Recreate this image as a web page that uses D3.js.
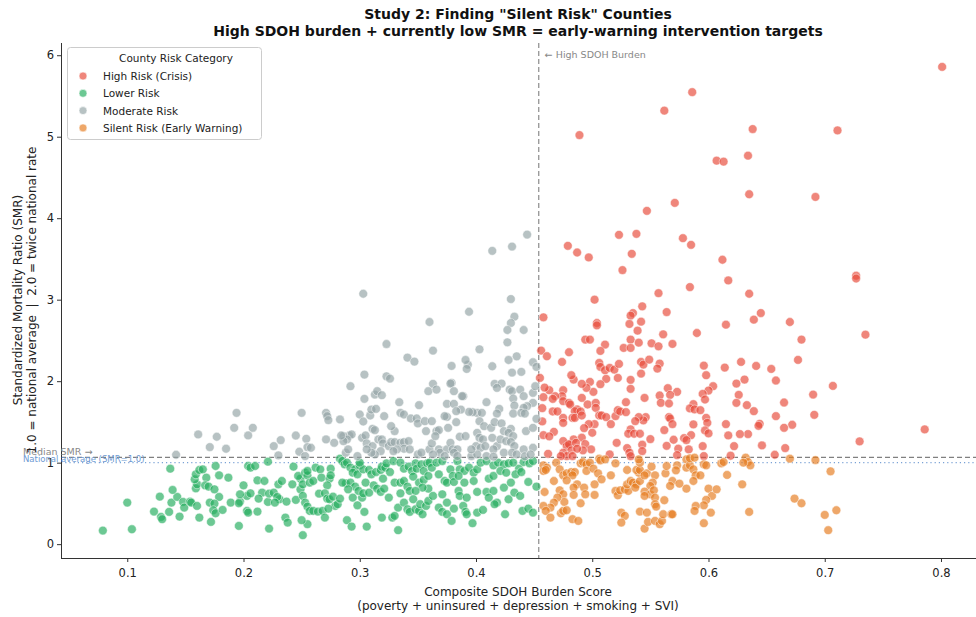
<!DOCTYPE html>
<html><head><meta charset="utf-8">
<script src="https://cdn.jsdelivr.net/npm/d3@7"></script>
<style>body{margin:0;background:#fff;font-family:"DejaVu Sans",sans-serif;} text{white-space:pre;}</style>
</head><body><svg id="c" width="976" height="617"></svg>
<script>
const xTicks=[0.1,0.2,0.3,0.4,0.5,0.6,0.7,0.8];
const yTicks=[0,1,2,3,4,5,6];
const categories=["High Risk (Crisis)","Lower Risk","Moderate Risk","Silent Risk (Early Warning)"];
const colors=["#e74c3c","#27ae60","#95a5a6","#e67e22"];
const sdohThreshold=0.454, medianSMR=1.065, nationalSMR=1.0;

const highRisk=[[0.801,5.857],[0.586,5.547],[0.562,5.32],[0.489,5.02],[0.638,5.094],[0.711,5.077],[0.607,4.706],[0.613,4.694],[0.634,4.767],[0.635,4.294],[0.692,4.261],[0.571,4.188],[0.547,4.09],[0.523,3.796],[0.538,3.808],[0.578,3.755],[0.585,3.673],[0.479,3.661],[0.487,3.579],[0.497,3.518],[0.534,3.563],[0.612,3.49],[0.526,3.363],[0.727,3.294],[0.727,3.26],[0.617,3.236],[0.584,3.155],[0.557,3.08],[0.635,3.073],[0.502,3.0],
[0.458,2.783],[0.543,2.918],[0.564,2.848],[0.535,2.836],[0.533,2.804],[0.542,2.73],[0.504,2.714],[0.504,2.685],[0.532,2.702],[0.539,2.62],[0.615,2.693],[0.639,2.755],[0.645,2.836],[0.67,2.726],[0.735,2.571],[0.590,2.591],[0.561,2.575],[0.680,2.51],[0.494,2.51],[0.498,2.51],[0.533,2.51],[0.569,2.457],[0.551,2.465],[0.557,2.428],[0.540,2.473],[0.511,2.449],[0.527,2.408],[0.533,2.408],[0.507,2.371],[0.456,2.375],[0.480,2.355],[0.461,2.306],[0.474,2.236],[0.506,2.224],[0.507,2.175],[0.511,2.134],[0.515,2.163],[0.519,2.142],[0.523,2.212],[0.542,2.236],[0.544,2.204],[0.549,2.265],[0.558,2.216],[0.556,2.155],[0.542,2.093],[0.596,2.191],[0.598,2.073],[0.614,2.167],[0.628,2.236],[0.641,2.187],[0.654,2.15],[0.677,2.261],[0.658,2.008],[0.631,2.02],[0.624,1.971],[0.707,1.942],[0.690,1.836],[0.691,1.587],[0.665,1.738],[0.786,1.408],[0.730,1.261],[0.672,1.465],[0.658,1.571],[0.665,1.428],[0.666,1.179],[0.657,1.097],[0.646,1.212],[0.644,1.477],[0.643,1.452],[0.639,1.632],[0.633,1.706],[0.626,1.832],[0.624,1.734],[0.634,1.351],[0.627,1.351],[0.617,1.334],[0.615,1.473],[0.622,1.203],[0.619,1.085],[0.604,1.938],[0.600,1.885],[0.595,1.844],[0.597,1.775],[0.598,1.55],[0.599,1.489],[0.597,1.395],[0.600,1.359],[0.587,1.718],[0.584,1.665],[0.588,1.653],[0.593,1.644],[0.587,1.469],[0.585,1.338],[0.579,1.301],[0.581,1.277],[0.583,1.163],[0.595,1.203],[0.596,1.081],[0.573,1.869],[0.565,1.914],[0.567,1.832],[0.558,1.824],[0.559,1.734],[0.566,1.726],[0.566,1.559],[0.567,1.542],[0.569,1.473],[0.562,1.4],[0.570,1.281],[0.564,1.207],[0.574,1.171],[0.573,1.093],[0.550,1.289],[0.545,1.795],[0.546,1.559],[0.544,1.518],[0.540,1.559],[0.537,1.51],[0.533,1.408],[0.531,1.355],[0.536,1.355],[0.541,1.355],[0.543,1.22],[0.543,1.142],[0.530,1.179],[0.532,1.122],[0.533,1.081],[0.529,1.742],[0.533,2.016],[0.533,1.906],[0.522,2.04],[0.512,2.028],[0.507,1.963],[0.501,1.869],[0.498,1.991],[0.495,1.918],[0.491,1.967],[0.491,1.795],[0.484,2.02],[0.482,2.073],[0.475,1.889],[0.474,1.816],[0.468,1.816],[0.463,1.889],[0.459,1.922],[0.458,1.804],[0.466,1.783],[0.457,1.669],[0.457,1.506],[0.458,1.338],[0.455,2.04],[0.462,1.109],[0.467,1.379],[0.463,1.322],[0.475,1.755],[0.480,1.734],[0.481,1.714],[0.466,1.628],[0.470,1.628],[0.475,1.55],[0.475,1.489],[0.487,1.653],[0.485,1.632],[0.490,1.628],[0.483,1.55],[0.485,1.55],[0.491,1.579],[0.496,1.714],[0.503,1.734],[0.503,1.673],[0.506,1.579],[0.508,1.579],[0.512,1.559],[0.520,1.571],[0.522,1.644],[0.524,1.628],[0.516,1.473],[0.502,1.473],[0.497,1.473],[0.493,1.424],[0.500,1.367],[0.491,1.306],[0.484,1.285],[0.479,1.228],[0.475,1.265],[0.478,1.204],[0.480,1.224],[0.486,1.244],[0.494,1.228],[0.499,1.163],[0.492,1.151],[0.482,1.151],[0.487,1.171],[0.475,1.122],[0.478,1.081],[0.473,1.081],[0.483,1.081],[0.515,1.101],[0.521,1.244],[0.529,1.62]];

const silentRisk=[[0.458,0.967],[0.461,0.939],[0.458,0.898],[0.460,0.91],[0.469,1.0],[0.472,0.918],[0.475,0.845],[0.478,0.869],[0.482,0.885],[0.485,0.885],[0.483,0.845],[0.467,0.775],[0.478,0.783],[0.487,0.734],[0.484,0.694],[0.490,0.992],[0.492,1.008],[0.495,0.979],[0.498,1.0],[0.495,0.898],[0.501,0.926],[0.505,0.869],[0.508,0.796],[0.502,0.734],[0.493,0.694],[0.472,0.661],[0.475,0.612],[0.484,0.604],[0.476,0.518],[0.470,0.571],[0.467,0.51],[0.464,0.449],[0.459,0.64],[0.458,0.469],[0.460,0.408],[0.464,0.326],[0.473,0.379],[0.475,0.408],[0.478,0.416],[0.483,0.306],[0.488,0.285],[0.490,0.502],[0.494,0.612],[0.502,0.604],[0.506,1.049],[0.507,1.028],[0.511,1.04],[0.520,0.992],[0.516,0.845],[0.520,0.653],[0.522,0.6],[0.524,0.661],[0.528,0.673],[0.531,0.653],[0.530,0.734],[0.533,0.775],[0.535,0.755],[0.538,0.734],[0.537,0.694],[0.541,0.775],[0.540,0.877],[0.538,0.91],[0.541,0.91],[0.541,1.0],[0.540,1.04],[0.547,0.869],[0.545,0.845],[0.554,0.845],[0.552,0.755],[0.550,0.714],[0.530,0.91],[0.551,0.951],[0.525,0.387],[0.528,0.347],[0.525,0.265],[0.541,0.4],[0.547,0.387],[0.545,0.645],[0.550,0.612],[0.553,0.661],[0.554,0.571],[0.545,0.592],[0.554,0.49],[0.555,0.461],[0.545,0.191],[0.548,0.273],[0.554,0.285],[0.558,0.245],[0.560,0.285],[0.561,0.367],[0.562,0.539],[0.568,0.367],[0.563,0.869],[0.564,0.959],[0.573,0.967],[0.572,0.906],[0.569,0.775],[0.567,0.714],[0.575,0.742],[0.581,0.681],[0.581,0.939],[0.581,1.04],[0.584,0.967],[0.584,1.053],[0.588,1.061],[0.587,0.918],[0.589,0.845],[0.587,0.775],[0.593,0.845],[0.596,0.979],[0.598,0.967],[0.600,0.681],[0.603,0.592],[0.607,0.673],[0.598,0.543],[0.596,0.477],[0.589,0.469],[0.588,0.408],[0.596,0.257],[0.602,0.387],[0.611,0.992],[0.613,1.008],[0.616,0.849],[0.629,0.734],[0.635,0.396],[0.632,1.061],[0.634,1.008],[0.636,0.967],[0.630,1.0],[0.670,1.049],[0.692,1.032],[0.674,0.559],[0.680,0.502],[0.705,0.894],[0.710,0.416],[0.700,0.359],[0.703,0.171],[0.569,0.367]];

const moderateRisk=[[0.444,3.799],[0.431,3.652],[0.414,3.599],[0.303,3.073],[0.430,3.008],[0.394,2.852],[0.433,2.791],[0.430,2.714],[0.427,2.628],[0.441,2.628],[0.360,2.726],[0.323,2.456],[0.427,2.477],[0.363,2.375],[0.403,2.391],[0.435,2.305],[0.428,2.26],[0.341,2.289],[0.347,2.24],[0.379,2.187],[0.393,2.203],[0.392,2.15],[0.391,2.26],[0.414,2.183],[0.449,2.232],[0.452,2.175],[0.431,2.105],[0.439,2.114],[0.304,2.081],[0.323,2.06],[0.326,2.032],[0.292,1.938],[0.363,1.967],[0.359,1.877],[0.366,1.897],[0.379,1.979],[0.378,1.971],[0.381,1.877],[0.389,1.816],[0.416,1.967],[0.422,1.971],[0.418,1.918],[0.429,1.897],[0.431,1.877],[0.438,1.897],[0.441,1.816],[0.432,1.787],[0.433,1.701],[0.432,1.603],[0.449,1.857],[0.451,1.938],[0.449,1.734],[0.444,1.693],[0.441,1.673],[0.439,1.611],[0.442,1.603],[0.452,1.538],[0.304,1.783],[0.313,1.836],[0.315,1.877],[0.319,1.828],[0.334,1.742],[0.351,1.706],[0.375,1.722],[0.381,1.722],[0.388,1.816],[0.409,1.742],[0.420,1.66],[0.418,1.603],[0.401,1.611],[0.405,1.611],[0.397,1.619],[0.394,1.623],[0.387,1.652],[0.383,1.632],[0.375,1.562],[0.373,1.571],[0.383,1.497],[0.403,1.509],[0.407,1.448],[0.413,1.428],[0.416,1.497],[0.422,1.481],[0.424,1.387],[0.430,1.415],[0.428,1.366],[0.432,1.326],[0.443,1.387],[0.449,1.428],[0.335,1.611],[0.338,1.591],[0.344,1.542],[0.349,1.542],[0.350,1.481],[0.356,1.509],[0.362,1.509],[0.357,1.387],[0.366,1.387],[0.368,1.399],[0.376,1.428],[0.330,1.387],[0.327,1.448],[0.311,1.415],[0.313,1.399],[0.309,1.579],[0.310,1.652],[0.314,1.66],[0.321,1.571],[0.300,1.591],[0.303,1.505],[0.283,1.53],[0.291,1.333],[0.293,1.346],[0.286,1.326],[0.302,1.305],[0.305,1.333],[0.306,1.236],[0.311,1.203],[0.316,1.285],[0.319,1.285],[0.320,1.236],[0.325,1.203],[0.327,1.252],[0.330,1.252],[0.335,1.244],[0.338,1.252],[0.342,1.264],[0.338,1.171],[0.343,1.163],[0.332,1.163],[0.360,1.163],[0.362,1.236],[0.365,1.326],[0.368,1.163],[0.375,1.163],[0.378,1.244],[0.380,1.163],[0.384,1.163],[0.386,1.318],[0.391,1.326],[0.401,1.366],[0.403,1.305],[0.406,1.285],[0.400,1.203],[0.404,1.183],[0.408,1.203],[0.414,1.305],[0.418,1.203],[0.415,1.163],[0.421,1.285],[0.426,1.264],[0.430,1.252],[0.433,1.203],[0.424,1.122],[0.431,1.122],[0.435,1.101],[0.441,1.163],[0.449,1.183],[0.442,1.078],[0.447,1.101],[0.396,1.081],[0.401,1.101],[0.409,1.081],[0.415,1.073],[0.396,1.163],[0.350,1.101],[0.353,1.122],[0.369,1.122],[0.373,1.081],[0.381,1.122],[0.384,1.081],[0.363,1.101],[0.329,1.142],[0.318,1.142],[0.313,1.101],[0.310,1.122],[0.306,1.163],[0.289,1.285],[0.288,1.122],[0.290,1.163],[0.298,1.081],[0.271,1.611],[0.272,1.571],[0.273,1.522],[0.278,1.244],[0.286,1.264],[0.284,1.333],[0.271,1.285],[0.250,1.611],[0.245,1.333],[0.254,1.293],[0.255,1.191],[0.258,1.183],[0.248,1.134],[0.253,1.081],[0.232,1.277],[0.226,1.203],[0.230,1.089],[0.194,1.611],[0.192,1.428],[0.208,1.428],[0.204,1.334],[0.161,1.346],[0.177,1.318],[0.171,1.191],[0.185,1.171],[0.142,1.097]];

const lowerRisk=[[0.079,0.167],[0.104,0.183],[0.100,0.51],[0.123,0.4],[0.129,0.334],[0.130,0.306],[0.136,0.396],[0.145,0.338],[0.128,0.583],[0.138,0.51],[0.143,0.579],[0.148,0.518],[0.149,0.449],[0.139,0.665],[0.137,0.926],[0.154,0.522],[0.155,0.51],[0.160,0.469],[0.162,0.326],[0.172,0.273],[0.159,0.685],[0.160,0.734],[0.158,0.796],[0.159,0.857],[0.162,0.91],[0.165,0.918],[0.168,0.816],[0.167,0.722],[0.170,0.706],[0.176,0.959],[0.179,0.845],[0.187,0.816],[0.175,0.673],[0.179,0.579],[0.171,0.51],[0.175,0.498],[0.174,0.416],[0.176,0.379],[0.182,0.42],[0.189,0.51],[0.197,0.522],[0.196,0.502],[0.200,0.722],[0.203,0.592],[0.197,0.612],[0.204,0.959],[0.206,0.939],[0.210,0.959],[0.221,1.012],[0.212,0.783],[0.218,0.775],[0.216,0.632],[0.213,0.559],[0.206,0.624],[0.203,0.408],[0.204,0.387],[0.196,0.224],[0.212,0.4],[0.221,0.518],[0.222,0.62],[0.226,0.632],[0.231,0.551],[0.229,0.579],[0.227,0.51],[0.222,0.191],[0.230,0.734],[0.233,0.775],[0.242,0.734],[0.243,0.951],[0.237,0.522],[0.245,0.543],[0.236,0.326],[0.238,0.265],[0.249,0.804],[0.249,0.673],[0.251,0.734],[0.247,0.837],[0.253,0.877],[0.255,0.845],[0.257,0.755],[0.260,0.775],[0.262,0.939],[0.255,0.898],[0.251,0.592],[0.253,0.51],[0.255,0.461],[0.257,0.408],[0.260,0.408],[0.264,0.4],[0.268,0.408],[0.270,0.326],[0.255,0.245],[0.251,0.11],[0.250,0.294],[0.266,0.918],[0.267,0.816],[0.274,0.804],[0.275,0.926],[0.272,0.722],[0.275,0.845],[0.265,0.62],[0.270,0.624],[0.272,0.559],[0.274,0.551],[0.277,0.583],[0.279,0.469],[0.281,0.49],[0.273,0.436],[0.283,1.049],[0.285,1.02],[0.287,0.979],[0.283,0.559],[0.289,0.294],[0.293,0.216],[0.288,0.747],[0.285,0.755],[0.292,0.755],[0.296,0.706],[0.290,0.673],[0.289,1.0],[0.292,0.939],[0.296,0.918],[0.294,0.877],[0.298,0.857],[0.300,0.967],[0.303,0.918],[0.300,1.0],[0.294,0.571],[0.298,0.477],[0.302,0.571],[0.304,0.396],[0.306,0.216],[0.299,0.653],[0.303,0.624],[0.305,0.755],[0.308,0.632],[0.312,0.722],[0.308,0.91],[0.310,0.857],[0.314,0.885],[0.318,0.91],[0.319,0.951],[0.322,0.939],[0.326,0.885],[0.320,0.804],[0.323,0.992],[0.329,1.02],[0.335,1.0],[0.315,0.681],[0.318,0.641],[0.321,0.681],[0.325,0.571],[0.328,0.326],[0.330,0.347],[0.319,0.326],[0.333,0.171],[0.333,0.449],[0.330,0.755],[0.335,0.755],[0.338,0.775],[0.335,0.624],[0.341,0.706],[0.343,0.653],[0.338,0.926],[0.342,0.951],[0.345,0.898],[0.348,0.992],[0.349,0.926],[0.353,0.979],[0.355,0.898],[0.358,0.992],[0.360,1.0],[0.346,0.828],[0.351,0.755],[0.355,0.788],[0.359,0.837],[0.359,0.681],[0.354,0.694],[0.348,0.653],[0.346,0.551],[0.338,0.51],[0.341,0.428],[0.343,0.396],[0.348,0.428],[0.351,0.408],[0.354,0.367],[0.352,0.49],[0.357,0.469],[0.359,0.53],[0.363,0.592],[0.368,0.449],[0.371,0.396],[0.375,0.367],[0.379,0.285],[0.375,0.51],[0.371,0.612],[0.368,0.857],[0.362,0.939],[0.366,1.0],[0.371,1.02],[0.378,0.918],[0.380,0.837],[0.373,0.775],[0.375,0.755],[0.381,0.763],[0.384,1.02],[0.386,0.918],[0.390,0.898],[0.394,0.939],[0.398,0.877],[0.401,0.918],[0.404,1.0],[0.409,1.02],[0.415,0.967],[0.419,1.0],[0.424,0.979],[0.428,0.992],[0.432,1.0],[0.437,0.926],[0.441,1.008],[0.446,0.992],[0.449,1.02],[0.385,0.837],[0.390,0.755],[0.398,0.775],[0.411,0.804],[0.415,0.837],[0.421,0.898],[0.426,0.877],[0.434,0.857],[0.439,0.885],[0.445,0.763],[0.452,0.706],[0.385,0.653],[0.386,0.592],[0.392,0.571],[0.401,0.641],[0.409,0.641],[0.415,0.653],[0.411,0.571],[0.418,0.51],[0.424,0.694],[0.428,0.551],[0.433,0.632],[0.438,0.592],[0.430,0.755],[0.381,0.436],[0.389,0.469],[0.391,0.396],[0.392,0.367],[0.397,0.257],[0.401,0.387],[0.406,0.42],[0.416,0.49],[0.425,0.367],[0.440,0.408],[0.445,0.436],[0.449,0.387]];

const seriesData=[highRisk,lowerRisk,moderateRisk,silentRisk];

const svg=d3.select("#c");
const x=d3.scaleLinear().domain([0.043,0.837]).range([61,984]);
const y=d3.scaleLinear().domain([-0.17,6.15]).range([558,43]);
const font='"DejaVu Sans", sans-serif';

svg.append("line").attr("x1",x(sdohThreshold)).attr("x2",x(sdohThreshold)).attr("y1",y(6.15)).attr("y2",y(-0.17))
  .attr("stroke","#808080").attr("stroke-width",1.1).attr("stroke-dasharray","5,3");
svg.append("line").attr("x1",61).attr("x2",976).attr("y1",y(medianSMR)).attr("y2",y(medianSMR))
  .attr("stroke","#808080").attr("stroke-width",1.1).attr("stroke-dasharray","5,3");
svg.append("line").attr("x1",61).attr("x2",976).attr("y1",y(nationalSMR)).attr("y2",y(nationalSMR))
  .attr("stroke","#7aa2d6").attr("stroke-width",1.1).attr("stroke-dasharray","1.2,3");

const g=svg.append("g");
seriesData.forEach((arr,i)=>{
  g.selectAll(null).data(arr).enter().append("circle")
    .attr("cx",d=>x(d[0])).attr("cy",d=>y(d[1])).attr("r",4.4)
    .attr("fill",colors[i]).attr("fill-opacity",0.68)
    .attr("stroke","#fff").attr("stroke-width",0.6).attr("stroke-opacity",0.8);
});

const xa=svg.append("g").attr("transform","translate(0,558)")
  .call(d3.axisBottom(x).tickValues(xTicks).tickFormat(d3.format(".1f")).tickSize(4).tickSizeOuter(0));
const ya=svg.append("g").attr("transform","translate(61,0)")
  .call(d3.axisLeft(y).tickValues(yTicks).tickFormat(d3.format("d")).tickSize(4).tickSizeOuter(0));
[xa,ya].forEach(a=>{a.selectAll("text").attr("font-family",font).attr("font-size",11.5).attr("fill","#222");
  a.selectAll("line").attr("stroke","#333"); a.select(".domain").attr("stroke","#333").attr("stroke-width",1);});
xa.select(".domain").attr("d","M61,0.5H976");
ya.select(".domain").attr("d","M0.5,558V43");
xa.selectAll("text").attr("dy","1em");

svg.append("text").attr("x",x(sdohThreshold)+6).attr("y",58).attr("font-family",font).attr("font-size",9.5)
  .attr("fill","#888").text("\u2190 High SDOH Burden");
svg.append("text").attr("x",23).attr("y",y(medianSMR)-2).attr("font-family",font).attr("font-size",9.5)
  .attr("fill","#888").text("Median SMR \u2192");
svg.append("text").attr("x",23).attr("y",y(nationalSMR)-1).attr("font-family",font).attr("font-size",8.5)
  .attr("fill","#6d9ad3").text("National average (SMR=1.0)");

svg.append("text").attr("x",518).attr("y",19).attr("text-anchor","middle").attr("font-family",font)
  .attr("font-size",14).attr("font-weight","bold").attr("fill","#111").text('Study 2: Finding "Silent Risk" Counties');
svg.append("text").attr("x",518).attr("y",36).attr("text-anchor","middle").attr("font-family",font)
  .attr("font-size",14).attr("font-weight","bold").attr("fill","#111").text("High SDOH burden + currently low SMR = early-warning intervention targets");
svg.append("text").attr("x",518).attr("y",596).attr("text-anchor","middle").attr("font-family",font)
  .attr("font-size",12).attr("fill","#222").text("Composite SDOH Burden Score");
svg.append("text").attr("x",518).attr("y",610).attr("text-anchor","middle").attr("font-family",font)
  .attr("font-size",12).attr("fill","#222").text("(poverty + uninsured + depression + smoking + SVI)");
const yl=svg.append("text").attr("transform","translate(22,300) rotate(-90)").attr("text-anchor","middle")
  .attr("font-family",font).attr("font-size",12).attr("fill","#222");
yl.append("tspan").attr("x",0).attr("dy",0).text("Standardized Mortality Ratio (SMR)");
yl.append("tspan").attr("x",0).attr("dy",14).text("1.0 = national average  |  2.0 = twice national rate");

const lg=svg.append("g").attr("transform","translate(67,47)");
lg.append("rect").attr("x",0.5).attr("y",0.5).attr("width",194).attr("height",92).attr("rx",3)
  .attr("fill","#fff").attr("fill-opacity",0.85).attr("stroke","#ccc");
lg.append("text").attr("x",109).attr("y",15).attr("text-anchor","middle").attr("font-family",font)
  .attr("font-size",10.5).attr("fill","#222").text("County Risk Category");
categories.forEach((c,i)=>{
  lg.append("circle").attr("cx",16).attr("cy",29+i*17.3).attr("r",4).attr("fill",colors[i]).attr("fill-opacity",0.68)
    .attr("stroke","#fff").attr("stroke-width",0.6);
  lg.append("text").attr("x",36).attr("y",33+i*17.3).attr("font-family",font).attr("font-size",10.5)
    .attr("fill","#222").text(c);
});
</script></body></html>
